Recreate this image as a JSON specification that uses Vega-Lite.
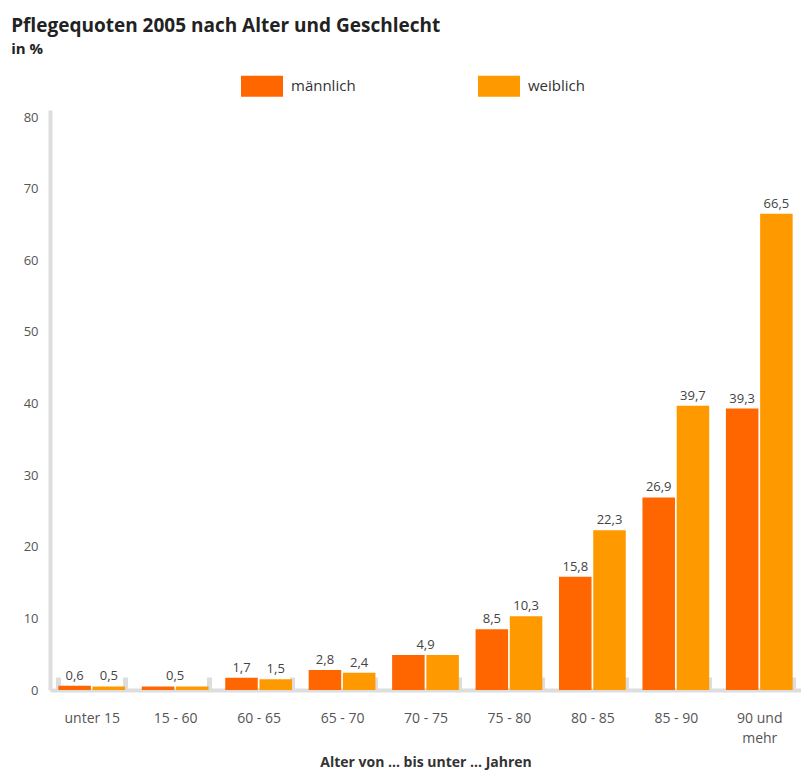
{
  "$schema": "https://vega.github.io/schema/vega-lite/v6.json",
  "width": 751,
  "height": 580,
  "autosize": {"type": "none"},
  "padding": {"left": 50, "top": 110, "right": 0, "bottom": 84},
  "background": "white",
  "config": {
    "view": {"stroke": null},
    "font": "Open Sans",
    "locale": {"number": {"decimal": ",", "thousands": ".", "grouping": [3], "currency": ["", " €"]}}
  },
  "title": {
    "text": "Pflegequoten 2005 nach Alter und Geschlecht",
    "subtitle": "in %",
    "anchor": "start",
    "frame": "bounds",
    "dx": -12,
    "offset": 8,
    "fontSize": 19,
    "fontWeight": "bold",
    "color": "#222222",
    "subtitleFontSize": 15,
    "subtitleFontWeight": "bold",
    "subtitleColor": "#222222",
    "subtitlePadding": 6
  },
  "data": {
    "values": [
      {"age": "unter 15", "sex": "männlich", "value": 0.6},
      {"age": "unter 15", "sex": "weiblich", "value": 0.5},
      {"age": "15 - 60", "sex": "männlich", "value": 0.5},
      {"age": "15 - 60", "sex": "weiblich", "value": 0.5},
      {"age": "60 - 65", "sex": "männlich", "value": 1.7},
      {"age": "60 - 65", "sex": "weiblich", "value": 1.5},
      {"age": "65 - 70", "sex": "männlich", "value": 2.8},
      {"age": "65 - 70", "sex": "weiblich", "value": 2.4},
      {"age": "70 - 75", "sex": "männlich", "value": 4.9},
      {"age": "70 - 75", "sex": "weiblich", "value": 4.9},
      {"age": "75 - 80", "sex": "männlich", "value": 8.5},
      {"age": "75 - 80", "sex": "weiblich", "value": 10.3},
      {"age": "80 - 85", "sex": "männlich", "value": 15.8},
      {"age": "80 - 85", "sex": "weiblich", "value": 22.3},
      {"age": "85 - 90", "sex": "männlich", "value": 26.9},
      {"age": "85 - 90", "sex": "weiblich", "value": 39.7},
      {"age": "90 und mehr", "sex": "männlich", "value": 39.3},
      {"age": "90 und mehr", "sex": "weiblich", "value": 66.5}
    ]
  },
  "transform": [
    {"joinaggregate": [{"op": "min", "field": "value", "as": "mn"}, {"op": "max", "field": "value", "as": "mx"}], "groupby": ["age"]}
  ],
  "encoding": {
    "x": {
      "field": "age",
      "type": "nominal",
      "sort": null,
      "scale": {"paddingInner": 0.2, "paddingOuter": 0.1},
      "axis": {
        "title": "Alter von ... bis unter ... Jahren",
        "titleFontSize": 14,
        "titleFontWeight": "bold",
        "titleColor": "#333333",
        "titlePadding": 10,
        "labelAngle": 0,
        "labelFontSize": 14,
        "labelColor": "#555555",
        "labelPadding": 34,
        "labelLineHeight": 20,
        "labelExpr": "datum.value == '90 und mehr' ? ['90 und', 'mehr'] : datum.value",
        "tickBand": "extent",
        "tickSize": -13,
        "tickWidth": 5,
        "tickColor": "#dddddd",
        "domainColor": "#dddddd",
        "domainWidth": 4
      }
    },
    "y": {
      "field": "value",
      "type": "quantitative",
      "scale": {"domain": [0, 81], "nice": false},
      "axis": {
        "title": null,
        "values": [0, 10, 20, 30, 40, 50, 60, 70, 80],
        "grid": false,
        "ticks": false,
        "labelPadding": 12,
        "labelFontSize": 13,
        "labelColor": "#555555",
        "domainColor": "#dddddd",
        "domainWidth": 4
      }
    }
  },
  "layer": [
    {
      "mark": {"type": "bar"},
      "encoding": {
        "xOffset": {"field": "sex", "type": "nominal", "scale": {"paddingInner": 0.05}},
        "color": {
          "field": "sex",
          "type": "nominal",
          "scale": {"domain": ["männlich", "weiblich"], "range": ["#ff6600", "#ff9900"]},
          "legend": {
            "title": null,
            "orient": "none",
            "legendX": 191,
            "legendY": -45,
            "direction": "horizontal",
            "symbolType": "M-1,-0.5H1V0.5H-1Z",
            "symbolSize": 1764,
            "symbolStrokeWidth": 0,
            "labelFontSize": 15,
            "labelColor": "#333333",
            "labelOffset": 8,
            "columnPadding": 122
          }
        }
      }
    },
    {
      "transform": [{"filter": "datum.mn != datum.mx"}],
      "mark": {"type": "text", "baseline": "bottom", "dy": -3, "fontSize": 13, "color": "#444444"},
      "encoding": {
        "xOffset": {"field": "sex", "type": "nominal", "scale": {"paddingInner": 0.05}},
        "text": {"field": "value", "type": "quantitative", "format": ".1f"}
      }
    },
    {
      "transform": [{"filter": "datum.mn == datum.mx && datum.sex == 'männlich'"}],
      "mark": {"type": "text", "baseline": "bottom", "dy": -3, "fontSize": 13, "color": "#444444"},
      "encoding": {
        "text": {"field": "value", "type": "quantitative", "format": ".1f"}
      }
    }
  ]
}
